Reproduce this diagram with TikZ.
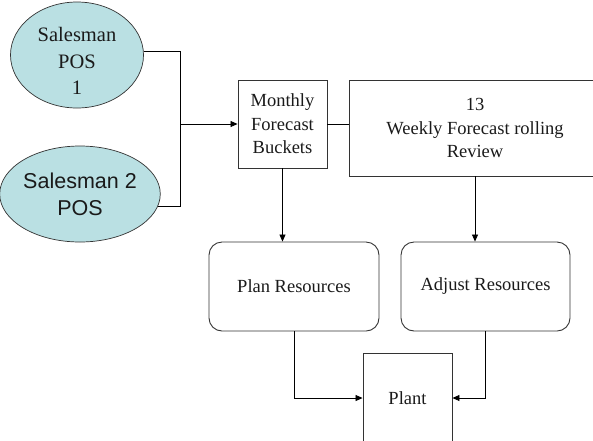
\documentclass[tikz,border=0pt]{standalone}
\usepackage{fontspec}
\setmainfont{Liberation Serif}
\setsansfont{Liberation Sans}
\newfontfamily\boxfont{Liberation Serif}
\usetikzlibrary{positioning, shapes.geometric, arrows.meta, calc}
\definecolor{posblue}{HTML}{BAE0E3}
\definecolor{edgegray}{HTML}{333333}
\definecolor{inkblack}{HTML}{1A1A1A}

\tikzset{
  posnode/.style={ellipse, draw=edgegray, fill=posblue, line width=0.7pt,
    inner sep=0pt, align=center, text=inkblack},
  boxnode/.style={rectangle, draw=edgegray, line width=0.9pt, inner sep=0pt,
    align=center, text=inkblack, font=\boxfont\fontsize{18.5}{23.5}\selectfont},
  roundnode/.style={boxnode, rounded corners=13pt},
  link/.style={draw=black, line width=0.8pt},
  linkarrow/.style={link, -{Triangle[length=7pt,width=6pt]}}
}

\begin{document}
\begin{tikzpicture}[x=1pt, y=-1pt]
        \useasboundingbox (0,0) rectangle (593,440);
        % salesmen
        \node[posnode, minimum width=133pt, minimum height=106pt,
              font=\boxfont\fontsize{20.5}{26.5}\selectfont] (pos1) at (77,55)
              {\raisebox{-13pt}[0pt][0pt]{\begin{tabular}{@{}c@{}}Salesman\\POS\\1\end{tabular}}};
        \node[posnode, minimum width=140pt, minimum height=96pt,
              font=\sffamily\fontsize{21.5}{27}\selectfont] (pos2) at (80,194) {Salesman 2\\POS};
        \coordinate (join) at (180,124);
        % forecast boxes
        \node[boxnode, minimum width=89pt, minimum height=88pt] (monthly) at (282.5,124) {Monthly\\Forecast\\Buckets};
        \node[boxnode, minimum width=252pt, minimum height=96pt] (weekly) at (475,128) {13\\Weekly Forecast rolling\\Review};
        % resources
        \node[roundnode, minimum width=170pt, minimum height=89pt] (plan) at (294,286.5) {Plan Resources};
        \node[roundnode, minimum width=169pt, minimum height=89pt] (adjust) at (485.5,286.5) {Adjust Resources};
        \node[boxnode, minimum width=89pt, minimum height=90pt] (plant) at (407.5,398) {Plant};

        \draw[link] (pos1.3.5) -| (join);
        \draw[link] (pos2.-9) -| (join);
        \draw[linkarrow] (join) -- (monthly.west);
        \draw[link] (monthly.east) -- (monthly.east -| weekly.west);
        \draw[linkarrow] (monthly.south) -- (monthly.south |- plan.north);
        \draw[linkarrow] (weekly.south) -- (weekly.south |- adjust.north);
        \draw[linkarrow] (plan.south) |- (plant.west);
        \draw[linkarrow] (adjust.south) |- (plant.east);
\end{tikzpicture}
\end{document}
